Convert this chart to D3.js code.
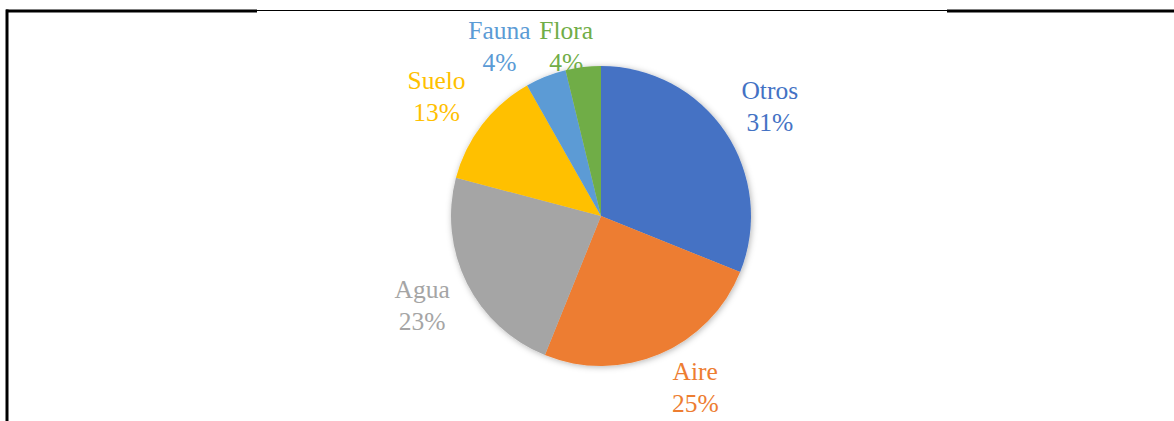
<!DOCTYPE html>
<html><head><meta charset="utf-8">
<script src="https://cdn.jsdelivr.net/npm/d3@7"></script>
<style>html,body{margin:0;padding:0;background:#fff;}svg{display:block;}</style>
</head><body>
<script>
const categories = ["Otros", "Aire", "Agua", "Suelo", "Fauna", "Flora"];
const values = [31.1, 25.0, 23.0, 12.7, 4.4, 3.8];
const colors = ["#4472C4", "#ED7D31", "#A5A5A5", "#FFC000", "#5B9BD5", "#70AD47"];

const W = 1174, H = 421;
const cx = 601, cy = 216, R = 150, labelR = 200;
const labelNudge = {Otros: [3, 3], Aire: [16, -12], Agua: [0, 0], Suelo: [-6, 3], Fauna: [-28, 17], Flora: [-11, 30]};

const svg = d3.select("body").append("svg").attr("width", W).attr("height", H);

// frame lines
svg.append("line").attr("x1", 6).attr("x2", 257).attr("y1", 11).attr("y2", 11).attr("stroke", "#000").attr("stroke-width", 3);
svg.append("line").attr("x1", 257).attr("x2", 947).attr("y1", 10.5).attr("y2", 10.5).attr("stroke", "#000").attr("stroke-width", 1);
svg.append("line").attr("x1", 947).attr("x2", 1174).attr("y1", 11).attr("y2", 11).attr("stroke", "#000").attr("stroke-width", 3);
svg.append("line").attr("x1", 7).attr("x2", 7).attr("y1", 9.5).attr("y2", H).attr("stroke", "#000").attr("stroke-width", 3);

const defs = svg.append("defs");
const f = defs.append("filter").attr("id", "sh").attr("x", "-20%").attr("y", "-20%").attr("width", "140%").attr("height", "140%");
f.append("feDropShadow").attr("dx", 1).attr("dy", 1).attr("stdDeviation", 3).attr("flood-color", "#000").attr("flood-opacity", 0.3);

const data = categories.map((c, i) => ({cat: c, value: values[i], color: colors[i]}));
const pie = d3.pie().value(d => d.value).sort(null);
const arcs = pie(data);
const arc = d3.arc().innerRadius(0).outerRadius(R);

const g = svg.append("g").attr("transform", `translate(${cx},${cy})`);
g.append("g").attr("filter", "url(#sh)")
  .selectAll("path").data(arcs).join("path")
  .attr("d", arc).attr("fill", d => d.data.color);

const total = d3.sum(values);
const lab = g.selectAll("text.lab").data(arcs).join("text")
  .attr("class", "lab")
  .attr("text-anchor", "middle")
  .attr("font-family", "'Liberation Serif','Times New Roman',serif")
  .attr("font-size", 25.5)
  .attr("fill", d => d.data.color)
  .attr("transform", d => {
    const a = (d.startAngle + d.endAngle) / 2;
    const n = labelNudge[d.data.cat] || [0, 0];
    const x = Math.sin(a) * labelR + n[0];
    const y = -Math.cos(a) * labelR + n[1];
    return `translate(${x},${y - 8})`;
  });
lab.append("tspan").attr("x", 0).attr("dy", 0).text(d => d.data.cat);
lab.append("tspan").attr("x", 0).attr("dy", 32).text(d => Math.round(d.data.value / total * 100) + "%");
</script>
</body></html>
